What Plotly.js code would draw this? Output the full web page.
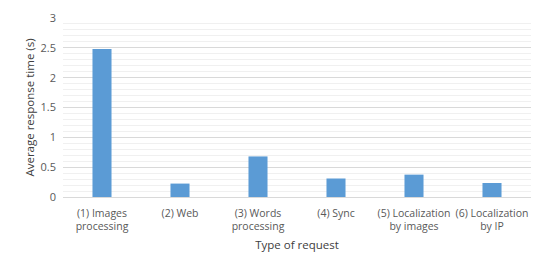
<!DOCTYPE html>
<html>
<head>
<meta charset="utf-8">
<script src="https://cdn.plot.ly/plotly-3.0.1.min.js"></script>
<style>html,body{margin:0;padding:0;background:#fff;}#chart{width:550px;height:271px;}</style>
</head>
<body>
<div id="chart"></div>
<script>
const categories = ["(1) Images<br>processing", "(2) Web", "(3) Words<br>processing", "(4) Sync", "(5) Localization<br>by images", "(6) Localization<br>by IP"];
const responseTimes = [2.48, 0.225, 0.68, 0.31, 0.375, 0.235];
const yTickVals = [0, 0.5, 1, 1.5, 2, 2.5, 3];
const yTickText = ["0", "0.5", "1", "1.5", "2", "2.5", "3"];

const fontFam = "Open Sans, Liberation Sans, sans-serif";
Plotly.newPlot("chart", [{
  type: "bar",
  x: categories,
  y: responseTimes,
  marker: {color: "#5b9bd5"},
  hoverinfo: "none"
}], {
  width: 550, height: 271,
  margin: {l: 63, r: 19, t: 17.5, b: 73.5},
  paper_bgcolor: "#ffffff", plot_bgcolor: "#ffffff",
  bargap: 0.756,
  showlegend: false,
  xaxis: {
    showgrid: false, zeroline: false, showline: false,
    ticks: "", tickangle: 0, ticklabelstandoff: 8,
    tickfont: {family: fontFam, size: 10.5, color: "#595959"},
    title: {text: "Type of request", font: {family: fontFam, size: 11.5, color: "#404040"}, standoff: 8}
  },
  yaxis: {
    range: [0, 3],
    tickvals: yTickVals, ticktext: yTickText,
    showgrid: true, gridcolor: "#d9d9d9", gridwidth: 1,
    minor: {dtick: 0.1, showgrid: true, gridcolor: "#f0f0f0", gridwidth: 1, ticks: ""},
    zeroline: true, zerolinecolor: "#d9d9d9", zerolinewidth: 1,
    showline: false, ticks: "", ticklen: 0, ticklabelstandoff: 6,
    tickfont: {family: fontFam, size: 11, color: "#595959"},
    title: {text: "Average response time (s)", font: {family: fontFam, size: 11.5, color: "#404040"}, standoff: 3}
  }
}, {staticPlot: true, displayModeBar: false});
</script>
</body>
</html>
